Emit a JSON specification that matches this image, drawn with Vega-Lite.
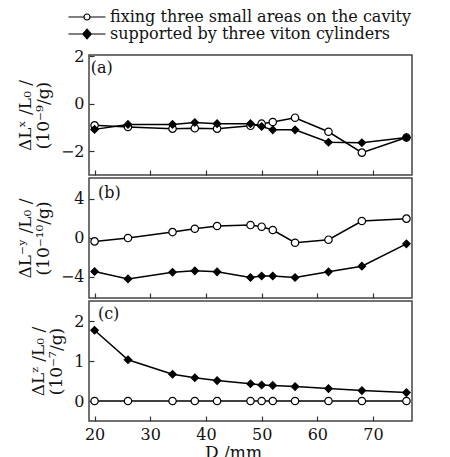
{
  "$schema": "https://vega.github.io/schema/vega-lite/v6.json",
  "background": "white",
  "padding": {"left": 15, "top": 8, "right": 0, "bottom": 0},
  "spacing": 0,
  "config": {
    "view": {"stroke": "#444", "strokeWidth": 1.5},
    "axis": {
      "domain": false, "grid": false, "offset": -5, "tickSize": 5, "tickColor": "#333", "tickWidth": 1.2,
      "labelFont": "DejaVu Serif", "labelFontSize": 16, "labelColor": "#111", "labelPadding": 5,
      "titleFont": "DejaVu Serif", "titleFontSize": 17, "titleFontWeight": "normal", "titleColor": "#111", "titleLineHeight": 18, "titlePadding": 8
    },
    "legend": {
      "orient": "none", "legendX": -10, "legendY": -46, "title": null, "padding": 0, "rowPadding": 1,
      "labelFont": "DejaVu Serif", "labelFontSize": 16, "labelColor": "#111", "labelOffset": 15, "labelLimit": 0,
      "symbolSize": 100, "symbolStrokeWidth": 1.2, "symbolStrokeColor": "black"
    }
  },
  "datasets": {
    "pts": [
      {"panel": "a", "s": "fixing three small areas on the cavity", "D": 20, "v": -0.91},
      {"panel": "a", "s": "fixing three small areas on the cavity", "D": 26, "v": -0.98},
      {"panel": "a", "s": "fixing three small areas on the cavity", "D": 34, "v": -1.05},
      {"panel": "a", "s": "fixing three small areas on the cavity", "D": 38, "v": -1.03},
      {"panel": "a", "s": "fixing three small areas on the cavity", "D": 42, "v": -1.05},
      {"panel": "a", "s": "fixing three small areas on the cavity", "D": 48, "v": -0.93},
      {"panel": "a", "s": "fixing three small areas on the cavity", "D": 50, "v": -0.84},
      {"panel": "a", "s": "fixing three small areas on the cavity", "D": 52, "v": -0.77},
      {"panel": "a", "s": "fixing three small areas on the cavity", "D": 56, "v": -0.59},
      {"panel": "a", "s": "fixing three small areas on the cavity", "D": 62, "v": -1.18},
      {"panel": "a", "s": "fixing three small areas on the cavity", "D": 68, "v": -2.06},
      {"panel": "a", "s": "fixing three small areas on the cavity", "D": 76, "v": -1.42},
      {"panel": "a", "s": "supported by three viton cylinders", "D": 20, "v": -1.08},
      {"panel": "a", "s": "supported by three viton cylinders", "D": 26, "v": -0.87},
      {"panel": "a", "s": "supported by three viton cylinders", "D": 34, "v": -0.87},
      {"panel": "a", "s": "supported by three viton cylinders", "D": 38, "v": -0.79},
      {"panel": "a", "s": "supported by three viton cylinders", "D": 42, "v": -0.84},
      {"panel": "a", "s": "supported by three viton cylinders", "D": 48, "v": -0.84},
      {"panel": "a", "s": "supported by three viton cylinders", "D": 50, "v": -0.96},
      {"panel": "a", "s": "supported by three viton cylinders", "D": 52, "v": -1.1},
      {"panel": "a", "s": "supported by three viton cylinders", "D": 56, "v": -1.1},
      {"panel": "a", "s": "supported by three viton cylinders", "D": 62, "v": -1.62},
      {"panel": "a", "s": "supported by three viton cylinders", "D": 68, "v": -1.64},
      {"panel": "a", "s": "supported by three viton cylinders", "D": 76, "v": -1.42},
      {"panel": "b", "s": "fixing three small areas on the cavity", "D": 20, "v": -0.37},
      {"panel": "b", "s": "fixing three small areas on the cavity", "D": 26, "v": -0.03},
      {"panel": "b", "s": "fixing three small areas on the cavity", "D": 34, "v": 0.58},
      {"panel": "b", "s": "fixing three small areas on the cavity", "D": 38, "v": 0.92},
      {"panel": "b", "s": "fixing three small areas on the cavity", "D": 42, "v": 1.2},
      {"panel": "b", "s": "fixing three small areas on the cavity", "D": 48, "v": 1.3},
      {"panel": "b", "s": "fixing three small areas on the cavity", "D": 50, "v": 1.13},
      {"panel": "b", "s": "fixing three small areas on the cavity", "D": 52, "v": 0.79},
      {"panel": "b", "s": "fixing three small areas on the cavity", "D": 56, "v": -0.51},
      {"panel": "b", "s": "fixing three small areas on the cavity", "D": 62, "v": -0.2},
      {"panel": "b", "s": "fixing three small areas on the cavity", "D": 68, "v": 1.71},
      {"panel": "b", "s": "fixing three small areas on the cavity", "D": 76, "v": 1.95},
      {"panel": "b", "s": "supported by three viton cylinders", "D": 20, "v": -3.45},
      {"panel": "b", "s": "supported by three viton cylinders", "D": 26, "v": -4.2},
      {"panel": "b", "s": "supported by three viton cylinders", "D": 34, "v": -3.52},
      {"panel": "b", "s": "supported by three viton cylinders", "D": 38, "v": -3.38},
      {"panel": "b", "s": "supported by three viton cylinders", "D": 42, "v": -3.48},
      {"panel": "b", "s": "supported by three viton cylinders", "D": 48, "v": -4.06},
      {"panel": "b", "s": "supported by three viton cylinders", "D": 50, "v": -3.9},
      {"panel": "b", "s": "supported by three viton cylinders", "D": 52, "v": -3.9},
      {"panel": "b", "s": "supported by three viton cylinders", "D": 56, "v": -4.06},
      {"panel": "b", "s": "supported by three viton cylinders", "D": 62, "v": -3.48},
      {"panel": "b", "s": "supported by three viton cylinders", "D": 68, "v": -2.9},
      {"panel": "b", "s": "supported by three viton cylinders", "D": 76, "v": -0.62},
      {"panel": "c", "s": "fixing three small areas on the cavity", "D": 20, "v": 0},
      {"panel": "c", "s": "fixing three small areas on the cavity", "D": 26, "v": 0},
      {"panel": "c", "s": "fixing three small areas on the cavity", "D": 34, "v": 0},
      {"panel": "c", "s": "fixing three small areas on the cavity", "D": 38, "v": 0},
      {"panel": "c", "s": "fixing three small areas on the cavity", "D": 42, "v": 0},
      {"panel": "c", "s": "fixing three small areas on the cavity", "D": 48, "v": 0},
      {"panel": "c", "s": "fixing three small areas on the cavity", "D": 50, "v": 0},
      {"panel": "c", "s": "fixing three small areas on the cavity", "D": 52, "v": 0},
      {"panel": "c", "s": "fixing three small areas on the cavity", "D": 56, "v": 0},
      {"panel": "c", "s": "fixing three small areas on the cavity", "D": 62, "v": 0},
      {"panel": "c", "s": "fixing three small areas on the cavity", "D": 68, "v": 0},
      {"panel": "c", "s": "fixing three small areas on the cavity", "D": 76, "v": 0},
      {"panel": "c", "s": "supported by three viton cylinders", "D": 20, "v": 1.77},
      {"panel": "c", "s": "supported by three viton cylinders", "D": 26, "v": 1.03},
      {"panel": "c", "s": "supported by three viton cylinders", "D": 34, "v": 0.67},
      {"panel": "c", "s": "supported by three viton cylinders", "D": 38, "v": 0.58},
      {"panel": "c", "s": "supported by three viton cylinders", "D": 42, "v": 0.51},
      {"panel": "c", "s": "supported by three viton cylinders", "D": 48, "v": 0.43},
      {"panel": "c", "s": "supported by three viton cylinders", "D": 50, "v": 0.4},
      {"panel": "c", "s": "supported by three viton cylinders", "D": 52, "v": 0.39},
      {"panel": "c", "s": "supported by three viton cylinders", "D": 56, "v": 0.36},
      {"panel": "c", "s": "supported by three viton cylinders", "D": 62, "v": 0.31},
      {"panel": "c", "s": "supported by three viton cylinders", "D": 68, "v": 0.26},
      {"panel": "c", "s": "supported by three viton cylinders", "D": 76, "v": 0.21}
    ],
    "labels": [
      {"panel": "a", "label": "(a)"},
      {"panel": "b", "label": "(b)"},
      {"panel": "c", "label": "(c)"}
    ]
  },
  "resolve": {
    "scale": {"x": "independent", "y": "independent", "shape": "independent", "fill": "independent"},
    "legend": {"shape": "independent", "fill": "independent"}
  },
  "vconcat": [
    {
      "width": 323, "height": 120,
      "resolve": {"scale": {"shape": "independent"}, "legend": {"shape": "independent"}},
      "layer": [
        {"data": {"name": "pts"}, "transform": [{"filter": "datum.panel === 'a'"}],
         "mark": {"type": "line", "color": "black", "strokeWidth": 1.5},
         "encoding": {
           "x": {"field": "D", "type": "quantitative", "scale": {"domain": [19, 77], "nice": false}, "axis": {"values": [20, 30, 40, 50, 60, 70], "labels": false, "title": null}},
           "y": {"field": "v", "type": "quantitative", "scale": {"domain": [-3, 2.05], "nice": false, "zero": false}, "axis": {"values": [-2, 0, 2], "title": ["ΔLˣ /L₀ /", "(10⁻⁹/g)"]}},
           "detail": {"field": "s"}
         }},
        {"data": {"name": "pts"}, "transform": [{"filter": "datum.panel === 'a'"}],
         "mark": {"type": "point", "filled": true, "stroke": "black", "strokeWidth": 1.2, "opacity": 1, "size": 55},
         "encoding": {
           "x": {"field": "D", "type": "quantitative", "scale": {"domain": [19, 77], "nice": false}},
           "y": {"field": "v", "type": "quantitative", "scale": {"domain": [-3, 2.05], "nice": false, "zero": false}},
           "shape": {"field": "s", "type": "nominal", "scale": {"domain": ["fixing three small areas on the cavity", "supported by three viton cylinders"], "range": ["circle", "diamond"]}, "legend": null},
           "fill": {"field": "s", "type": "nominal", "scale": {"domain": ["fixing three small areas on the cavity", "supported by three viton cylinders"], "range": ["white", "black"]}, "legend": null}
         }},
        {"data": {"name": "pts"}, "transform": [{"filter": "false"}],
         "mark": {"type": "point", "filled": false, "color": "black", "strokeWidth": 1.2, "opacity": 1},
         "encoding": {
           "x": {"field": "D", "type": "quantitative", "scale": {"domain": [19, 77], "nice": false}},
           "y": {"field": "v", "type": "quantitative", "scale": {"domain": [-3, 2.05], "nice": false, "zero": false}},
           "shape": {"field": "s", "type": "nominal",
             "scale": {"domain": ["fixing three small areas on the cavity", "supported by three viton cylinders"],
               "range": ["M-3.7,0H-0.6M0.6,0H3.7M0.6,0A0.6,0.6 0 1 1 -0.6,0A0.6,0.6 0 1 1 0.6,0Z",
                         "M-3.7,0H-0.85M0.85,0H3.7M0,-0.95L0.85,0L0,0.95L-0.85,0ZM0,-0.65L0.55,0L0,0.65L-0.55,0ZM0,-0.35L0.3,0L0,0.35L-0.3,0ZM-0.1,0H0.1"]},
             "legend": {"orient": "none", "legendX": -10, "legendY": -46, "title": null}}
         }},
        {"data": {"name": "labels"}, "transform": [{"filter": "datum.panel === 'a'"}],
         "mark": {"type": "text", "align": "left", "baseline": "middle", "fontSize": 16, "font": "DejaVu Serif", "color": "#111"},
         "encoding": {
           "x": {"datum": 19.3, "type": "quantitative", "scale": {"domain": [19, 77], "nice": false}},
           "y": {"datum": 1.5, "type": "quantitative", "scale": {"domain": [-3, 2.05], "nice": false, "zero": false}},
           "text": {"field": "label"}
         }}
      ]
    },
    {
      "width": 323, "height": 120,
      "layer": [
        {"data": {"name": "pts"}, "transform": [{"filter": "datum.panel === 'b'"}],
         "mark": {"type": "line", "color": "black", "strokeWidth": 1.5},
         "encoding": {
           "x": {"field": "D", "type": "quantitative", "scale": {"domain": [19, 77], "nice": false}, "axis": {"values": [20, 30, 40, 50, 60, 70], "labels": false, "title": null}},
           "y": {"field": "v", "type": "quantitative", "scale": {"domain": [-6.15, 6.1], "nice": false, "zero": false}, "axis": {"values": [-4, 0, 4], "title": ["ΔL⁻ʸ /L₀ /", "(10⁻¹⁰/g)"]}},
           "detail": {"field": "s"}
         }},
        {"data": {"name": "pts"}, "transform": [{"filter": "datum.panel === 'b'"}],
         "mark": {"type": "point", "filled": true, "stroke": "black", "strokeWidth": 1.2, "opacity": 1, "size": 55},
         "encoding": {
           "x": {"field": "D", "type": "quantitative", "scale": {"domain": [19, 77], "nice": false}},
           "y": {"field": "v", "type": "quantitative", "scale": {"domain": [-6.15, 6.1], "nice": false, "zero": false}},
           "shape": {"field": "s", "type": "nominal", "scale": {"domain": ["fixing three small areas on the cavity", "supported by three viton cylinders"], "range": ["circle", "diamond"]}, "legend": null},
           "fill": {"field": "s", "type": "nominal", "scale": {"domain": ["fixing three small areas on the cavity", "supported by three viton cylinders"], "range": ["white", "black"]}, "legend": null}
         }},
        {"data": {"name": "labels"}, "transform": [{"filter": "datum.panel === 'b'"}],
         "mark": {"type": "text", "align": "left", "baseline": "middle", "fontSize": 16, "font": "DejaVu Serif", "color": "#111"},
         "encoding": {
           "x": {"datum": 20.6, "type": "quantitative", "scale": {"domain": [19, 77], "nice": false}},
           "y": {"datum": 4.6, "type": "quantitative", "scale": {"domain": [-6.15, 6.1], "nice": false, "zero": false}},
           "text": {"field": "label"}
         }}
      ]
    },
    {
      "width": 323, "height": 120,
      "layer": [
        {"data": {"name": "pts"}, "transform": [{"filter": "datum.panel === 'c'"}],
         "mark": {"type": "line", "color": "black", "strokeWidth": 1.5},
         "encoding": {
           "x": {"field": "D", "type": "quantitative", "scale": {"domain": [19, 77], "nice": false}, "axis": {"values": [20, 30, 40, 50, 60, 70], "title": "D /mm", "format": "d", "titleX": 144, "titlePadding": 2}},
           "y": {"field": "v", "type": "quantitative", "scale": {"domain": [-0.5, 2.5], "nice": false, "zero": false}, "axis": {"values": [0, 1, 2], "title": ["ΔLᶻ /L₀ /", "(10⁻⁷/g)"]}},
           "detail": {"field": "s"}
         }},
        {"data": {"name": "pts"}, "transform": [{"filter": "datum.panel === 'c'"}],
         "mark": {"type": "point", "filled": true, "stroke": "black", "strokeWidth": 1.2, "opacity": 1, "size": 55},
         "encoding": {
           "x": {"field": "D", "type": "quantitative", "scale": {"domain": [19, 77], "nice": false}},
           "y": {"field": "v", "type": "quantitative", "scale": {"domain": [-0.5, 2.5], "nice": false, "zero": false}},
           "shape": {"field": "s", "type": "nominal", "scale": {"domain": ["fixing three small areas on the cavity", "supported by three viton cylinders"], "range": ["circle", "diamond"]}, "legend": null},
           "fill": {"field": "s", "type": "nominal", "scale": {"domain": ["fixing three small areas on the cavity", "supported by three viton cylinders"], "range": ["white", "black"]}, "legend": null}
         }},
        {"data": {"name": "labels"}, "transform": [{"filter": "datum.panel === 'c'"}],
         "mark": {"type": "text", "align": "left", "baseline": "middle", "fontSize": 16, "font": "DejaVu Serif", "color": "#111"},
         "encoding": {
           "x": {"datum": 20.6, "type": "quantitative", "scale": {"domain": [19, 77], "nice": false}},
           "y": {"datum": 2.17, "type": "quantitative", "scale": {"domain": [-0.5, 2.5], "nice": false, "zero": false}},
           "text": {"field": "label"}
         }}
      ]
    }
  ]
}
